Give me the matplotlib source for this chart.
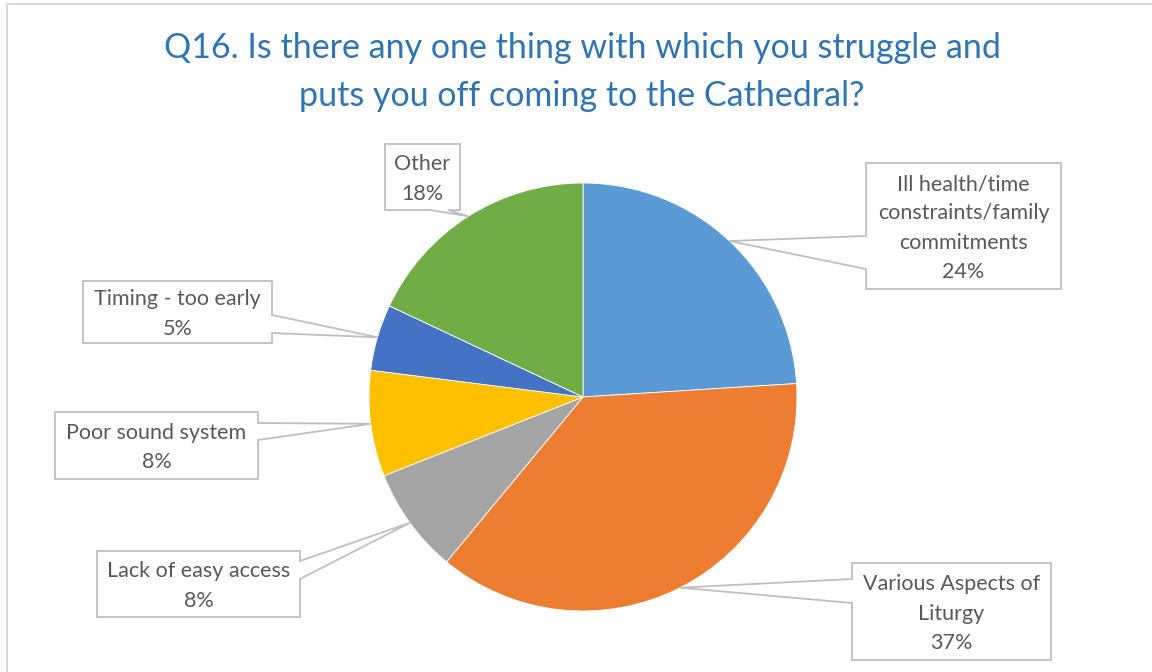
import numpy as np
import matplotlib.pyplot as plt
from matplotlib.patches import Polygon, Rectangle

labels = ["Ill health/time\nconstraints/family\ncommitments", "Various Aspects of\nLiturgy",
          "Lack of easy access", "Poor sound system", "Timing - too early", "Other"]
values = [24, 37, 8, 8, 5, 18]
colors = ["#5B9BD5", "#ED7D31", "#A5A5A5", "#FFC000", "#4472C4", "#70AD47"]

# callout boxes in pixel coords (x0, y0, x1, y1), which edge the tail leaves from, and its span
boxes = [(866, 163, 1061, 289), (852, 563, 1051, 660), (97, 551, 300, 617),
         (55, 412, 258, 479), (83, 281, 272, 343), (385, 144, 460, 210)]
sides = ["left", "left", "right", "right", "right", "bottom"]
spans = [(236, 269), (579, 603), (561, 579), (423, 440), (315, 333), (430, 448)]

W, H = 1152, 672
fig = plt.figure(figsize=(W / 100, H / 100), dpi=100)
ax = fig.add_axes([0, 0, 1, 1])

# chart area border
ax.add_patch(Rectangle((7, -10), W + 10, H - 4 + 10, fill=False, ec="#D9D9D9", lw=1.5))

cx, cy, r = 583, H - 397, 214
wedges, _ = ax.pie(values, colors=colors, startangle=90, counterclock=False,
                   center=(cx, cy), radius=r, frame=True,
                   wedgeprops=dict(edgecolor="white", linewidth=0.6))
ax.set_xlim(0, W)
ax.set_ylim(0, H)
ax.set_aspect("equal")
ax.axis("off")

ax.text(W / 2 + 6, H - 72, "Q16. Is there any one thing with which you struggle and\nputs you off coming to the Cathedral?",
        ha="center", va="center", fontsize=24.5, color="#2E75B6", family="Lato",
        linespacing=1.62)


def callout(box, side, span, tip):
    x0, y0, x1, y1 = box
    a, b = span
    if side == "left":
        pts = [(x0, y0), (x1, y0), (x1, y1), (x0, y1), (x0, b), tip, (x0, a)]
    elif side == "right":
        pts = [(x0, y0), (x1, y0), (x1, a), tip, (x1, b), (x1, y1), (x0, y1)]
    else:
        pts = [(x0, y0), (x1, y0), (x1, y1), (b, y1), tip, (a, y1), (x0, y1)]
    pts = [(px, H - py) for px, py in pts]
    ax.add_patch(Polygon(pts, closed=True, fc="white", ec="#BFBFBF", lw=1.3, zorder=3))


for w, lab, v, box, side, span in zip(wedges, labels, values, boxes, sides, spans):
    mid = np.radians((w.theta1 + w.theta2) / 2)
    tip = (cx + r * np.cos(mid), H - (cy + r * np.sin(mid)))
    callout(box, side, span, tip)
    x0, y0, x1, y1 = box
    ax.text((x0 + x1) / 2, H - (y0 + y1) / 2 - 2, f"{lab}\n{v}%", ha="center", va="center",
            fontsize=15.5, color="#595959", family="Lato", linespacing=1.58, zorder=4)

fig.savefig("out.png", dpi=100)
